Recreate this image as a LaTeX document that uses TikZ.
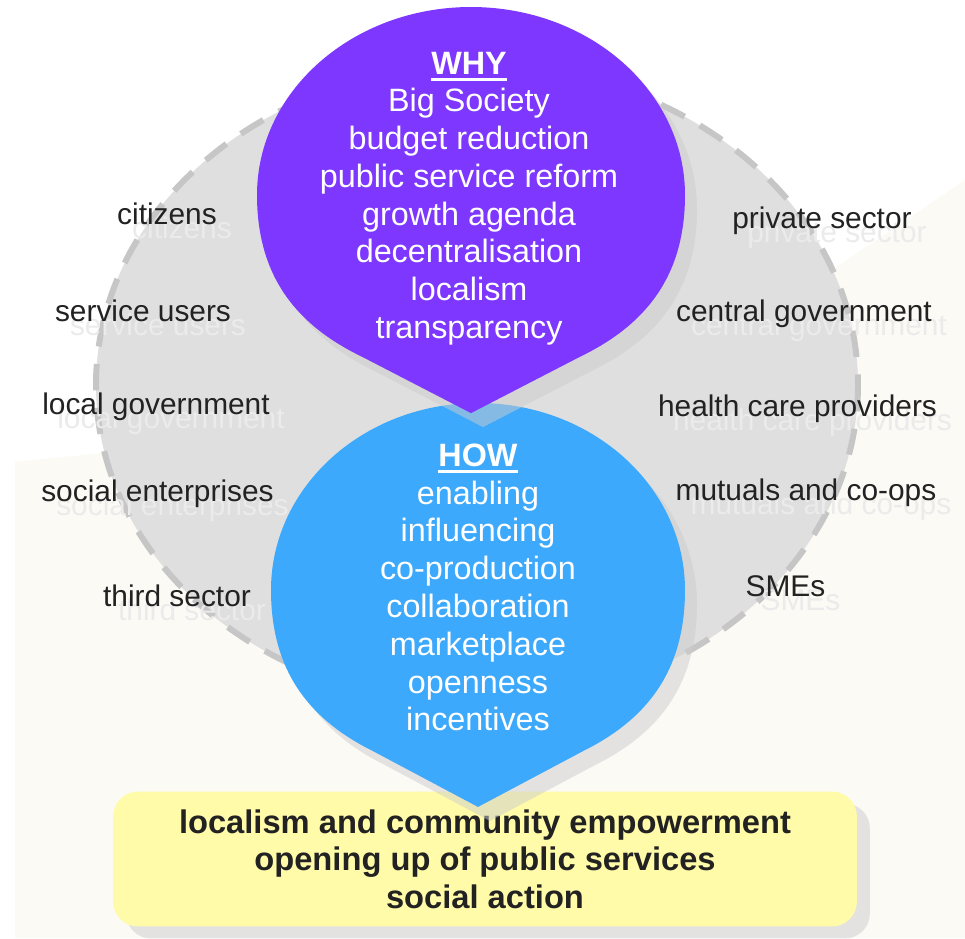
\documentclass[tikz,border=0pt]{standalone}
\usepackage{fontspec}
\setmainfont{Liberation Sans}
\usetikzlibrary{shadows}

\definecolor{whyviolet}{HTML}{7D37FF}
\definecolor{howblue}{HTML}{3DA9FC}
\definecolor{ringgrey}{HTML}{DFDFDF}
\definecolor{dashgrey}{HTML}{C6C6C6}
\definecolor{goalyellow}{HTML}{FFFBA8}
\definecolor{paper}{HTML}{FBFAF5}
\definecolor{ink}{HTML}{222222}

\newcommand\headword[1]{\setbox0\hbox{\textbf{#1}}\leavevmode\rlap{\rule[-4pt]{\wd0}{1.7pt}}\box0}

\tikzset{
    drop/.pic={
        \path[pic actions] (0,1.16) -- (-0.51,0.86)
            .. controls (-0.80,0.70) and (-1,0.45) .. (-1,0)
            .. controls (-1,-0.5523) and (-0.5523,-1) .. (0,-1)
            .. controls (0.5523,-1) and (1,-0.5523) .. (1,0)
            .. controls (1,0.45) and (0.80,0.70) .. (0.51,0.86) -- cycle;
    },
    dropshade/.style={fill=black!20, opacity=.5},
    ring/.style={fill=ringgrey, draw=dashgrey, line width=3.4pt, dash pattern=on 15pt off 10pt},
    label/.style={text=ink, font=\fontsize{17}{20}\selectfont, inner sep=0pt, anchor=base},
    ghost/.style={label, text=black!8},
    droptext/.style={text=white, font=\fontsize{18.4}{21.5}\selectfont, align=center, inner sep=0pt, anchor=north},
    goalbox/.style={fill=goalyellow, rounded corners=0.5cm, minimum width=14.88cm, minimum height=2.7cm,
        inner sep=0pt, align=center, text=ink, font=\bfseries\fontsize{18.6}{21.3}\selectfont,
        drop shadow={shadow xshift=0.26cm, shadow yshift=-0.24cm, fill=black!20, opacity=.5}},
}

\begin{document}
\begin{tikzpicture}[x=0.02cm, y=-0.02cm]
    \useasboundingbox (0,0) rectangle (965,938);
    \fill[white] (0,0) rectangle (965,938);
    \fill[paper] (15,938) -- (15,462) -- (642,399) -- (965,180) -- (965,938) -- cycle;

    % the grey ring of partners
    \path[ring] (477,385) ellipse [x radius=381, y radius=320];

    \node[ghost] at (182,238) {citizens};
    \node[ghost] at (158,335) {service users};
    \node[ghost] at (171,428) {local government};
    \node[ghost] at (172.5,515) {social enterprises};
    \node[ghost] at (192,620) {third sector};
    \node[ghost] at (837,242) {private sector};
    \node[ghost] at (819,335) {central government};
    \node[ghost] at (812.5,430) {health care providers};
    \node[ghost] at (821,514) {mutuals and co-ops};
    \node[ghost] at (800.5,610) {SMEs};

    \node[label] (citizens) at (167,224) {citizens};
    \node[label] (users) at (143,321) {service users};
    \node[label] (localgov) at (156,414) {local government};
    \node[label] (socent) at (157.5,501) {social enterprises};
    \node[label] (third) at (177,606) {third sector};
    \node[label] (private) at (822,228) {private sector};
    \node[label] (centralgov) at (804,321) {central government};
    \node[label] (health) at (797.5,416) {health care providers};
    \node[label] (mutuals) at (806,500) {mutuals and co-ops};
    \node[label] (smes) at (785.5,596) {SMEs};

    % outcome box
    \node[goalbox] (goal) at (485,859) {localism and community empowerment\\opening up of public services\\social action};

    % HOW drop
    \pic[dropshade, xscale=207, yscale=187] at (490,604) {drop};
    \pic[fill=howblue, xscale=207, yscale=187] at (478,590) {drop};
    % WHY drop
    \pic[dropshade, xscale=214, yscale=188] at (483,209) {drop};
    \pic[fill=whyviolet, xscale=214, yscale=188] at (471,195) {drop};

    \node[droptext] (why) at (469,51.5) {\headword{WHY}\\Big Society\\budget reduction\\public service reform\\growth agenda\\decentralisation\\localism\\transparency};
    \node[droptext] (how) at (478,443.5) {\headword{HOW}\\enabling\\influencing\\co-production\\collaboration\\marketplace\\openness\\incentives};
\end{tikzpicture}
\end{document}
